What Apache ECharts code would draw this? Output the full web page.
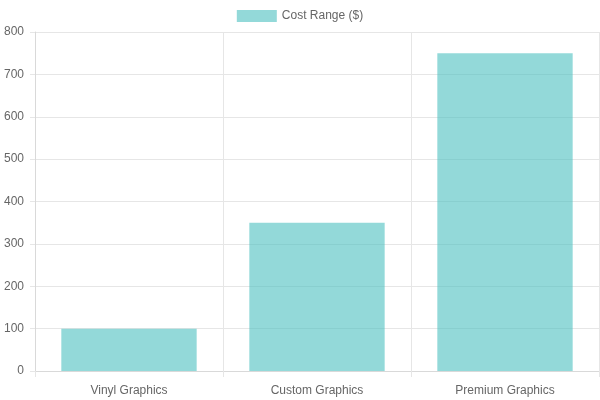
<!DOCTYPE html>
<html>
<head>
<meta charset="utf-8">
<script src="https://cdn.jsdelivr.net/npm/echarts@6/dist/echarts.min.js"></script>
<style>
html,body{margin:0;padding:0;background:#fff;}
#chart{width:600px;height:400px;}
</style>
</head>
<body>
<div id="chart"></div>
<script>
const categories = ["Vinyl Graphics", "Custom Graphics", "Premium Graphics"];
const costValues = [100, 350, 750];
const seriesName = "Cost Range ($)";
const yMin = 0, yMax = 800, yInterval = 100;

const font = '"Liberation Sans", Arial, Helvetica, sans-serif';
const chart = echarts.init(document.getElementById('chart'), null, {renderer: 'canvas'});
chart.setOption({
  animation: false,
  backgroundColor: '#ffffff',
  textStyle: {fontFamily: font},
  legend: {
    top: 5,
    left: 'center',
    itemWidth: 40,
    itemHeight: 12,
    itemGap: 10,
    icon: 'rect',
    textStyle: {color: '#666', fontSize: 12, fontFamily: font},
    data: [seriesName]
  },
  grid: {left: 35, right: 1, top: 32, bottom: 29, containLabel: false},
  xAxis: {
    type: 'category',
    data: categories,
    boundaryGap: true,
    axisLine: {show: true, lineStyle: {color: '#d9d9d9'}},
    axisTick: {show: true, length: 6, lineStyle: {color: '#e6e6e6'}},
    splitLine: {show: true, lineStyle: {color: '#e6e6e6'}},
    axisLabel: {color: '#666', fontSize: 12, margin: 14, fontFamily: font}
  },
  yAxis: {
    type: 'value',
    min: yMin, max: yMax, interval: yInterval,
    axisLine: {show: true, lineStyle: {color: '#d9d9d9'}},
    axisTick: {show: true, length: 5, lineStyle: {color: '#e6e6e6'}},
    splitLine: {show: true, lineStyle: {color: '#e6e6e6'}},
    axisLabel: {color: '#666', fontSize: 12, margin: 11, fontFamily: font}
  },
  series: [{
    name: seriesName,
    type: 'bar',
    data: costValues,
    barWidth: '72%',
    itemStyle: {color: 'rgba(75,192,192,0.6)'}
  }]
});
</script>
</body>
</html>
